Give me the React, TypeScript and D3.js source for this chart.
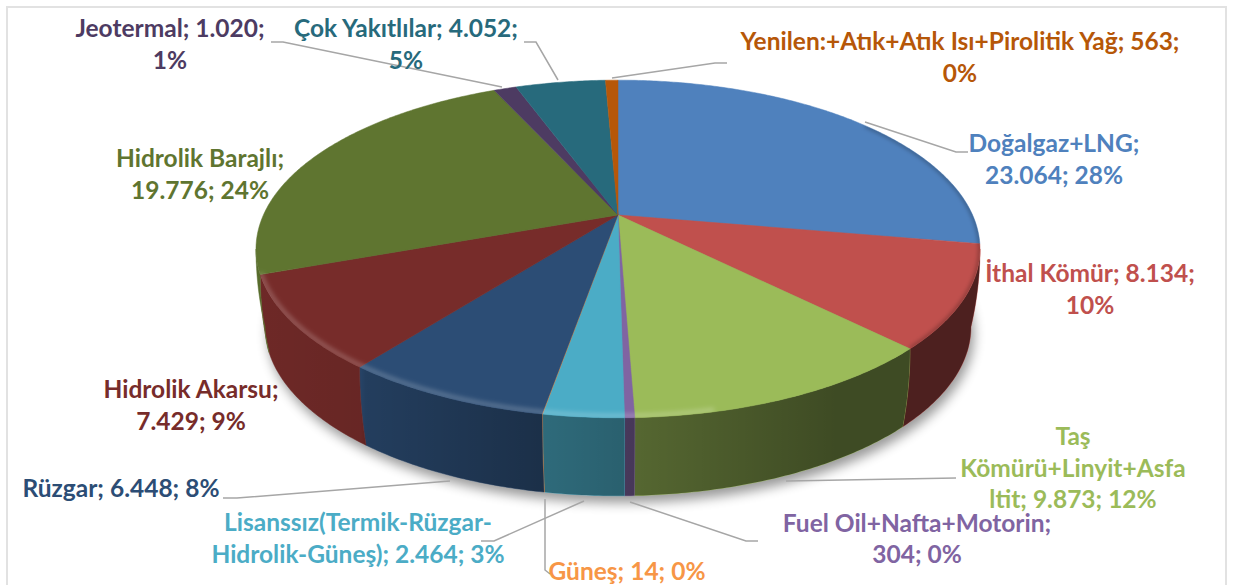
import React from 'react';
import * as d3 from 'd3';

const categories = [
  'Doğalgaz+LNG', 'İthal Kömür', 'Taş Kömürü+Linyit+Asfaltit', 'Fuel Oil+Nafta+Motorin',
  'Lisanssız(Termik-Rüzgar-Hidrolik-Güneş)', 'Güneş', 'Rüzgar', 'Hidrolik Akarsu',
  'Hidrolik Barajlı', 'Jeotermal', 'Çok Yakıtlılar', 'Yenilen:+Atık+Atık Isı+Pirolitik Yağ',
];
const values = [23064, 8134, 9873, 304, 2464, 14, 6448, 7429, 19776, 1020, 4052, 563];
const colors = [
  '#4f81bd', '#c0504d', '#9bbb59', '#8064a2', '#4bacc6', '#f79646',
  '#2c4d75', '#772c2a', '#5f7530', '#4d3b62', '#276a7c', '#b65708',
];

// label text, one entry per category
const labelLines = [
  ['Doğalgaz+LNG;', '23.064; 28%'],
  ['İthal Kömür; 8.134;', '10%'],
  ['Taş', 'Kömürü+Linyit+Asfa', 'ltit; 9.873; 12%'],
  ['Fuel Oil+Nafta+Motorin;', '304; 0%'],
  ['Lisanssız(Termik-Rüzgar-', 'Hidrolik-Güneş); 2.464; 3%'],
  ['Güneş; 14; 0%'],
  ['Rüzgar; 6.448; 8%'],
  ['Hidrolik Akarsu;', '7.429; 9%'],
  ['Hidrolik Barajlı;', '19.776; 24%'],
  ['Jeotermal; 1.020;', '1%'],
  ['Çok Yakıtlılar; 4.052;', '5%'],
  ['Yenilen:+Atık+Atık Isı+Pirolitik Yağ; 563;', '0%'],
];
// centre x / first baseline / line height of each label
const labelPos = [
  [1054, 152, 32], [1090, 282, 32], [1073, 445, 31.5], [917, 532, 31],
  [358, 531, 32], [627, 580, 32], [121, 497, 32], [191, 398, 32],
  [200, 167, 32], [170, 37, 32], [406, 37, 32], [960, 50, 32],
];
const leaders = [
  [[865, 122], [956, 152], [968, 152]],
  [],
  [[786, 481], [956, 478]],
  [[630, 502], [746, 541], [758, 541]],
  [[584, 501], [494, 541], [481, 541]],
  [[545, 499], [545, 570], [550, 574]],
  [[450, 481], [237, 498], [223, 498]],
  [],
  [],
  [[502, 87], [283, 42], [271, 42]],
  [[558, 80], [536, 42], [524, 42]],
  [[612, 78], [715, 63], [727, 63]],
];

const width = 1234;
const height = 585;
const hubX = 618;
const hubY = 215;
const radiusX = 354.6;
const radiusY = 162;
const tilt = 0.2012; // perspective of the pie plate
const depth = 78;
const bottomShrink = 0.025; // wall curves inwards towards the base
const frontStart = Math.acos(-tilt);
const frontEnd = 2 * Math.PI - frontStart;

const project = (angle: number, dy = 0): [number, number] => {
  const u = Math.sin(angle);
  const v = -Math.cos(angle);
  const w = 1 - tilt * v;
  const shrink = 1 - bottomShrink * (dy / depth) ** 2;
  return [hubX + (radiusX * shrink * u) / w, hubY + (radiusY * v) / w + dy];
};

const arcPoints = (a0: number, a1: number, dy = 0) => {
  const n = Math.max(2, Math.ceil((a1 - a0) / 0.01));
  return d3.range(n + 1).map(i => project(a0 + ((a1 - a0) * i) / n, dy));
};

// vertical edge of the wall at one angle, top to bottom
const edgePoints = (angle: number) =>
  d3.range(1, 12).map(i => project(angle, (depth * i) / 12));

const line = d3.line();
const slices = d3.pie<number>().sort(null)(values);

const App = () => {
  const fullArc = arcPoints(0, 2 * Math.PI);
  const plate = line(arcPoints(0, 2 * Math.PI, depth)) + 'Z';

  return (
    <svg
      width={width}
      height={height}
      style={{ position: 'absolute', left: 0, top: 0, background: '#fff' }}
      fontFamily="Lato, Carlito, sans-serif"
      fontWeight={700}
    >
      <defs>
        <filter id="shadowBlur" x="-10%" y="-10%" width="120%" height="130%">
          <feGaussianBlur stdDeviation="6" />
        </filter>
        <filter id="rimBlur" x="-5%" y="-5%" width="110%" height="110%">
          <feGaussianBlur stdDeviation="2.2" />
        </filter>
        <linearGradient id="sideShade" gradientUnits="userSpaceOnUse" x1={260} x2={980} y1={0} y2={0}>
          <stop offset="0" stopColor="#000" stopOpacity={0.08} />
          <stop offset="0.14" stopColor="#000" stopOpacity={0.13} />
          <stop offset="0.147" stopColor="#000" stopOpacity={0.2} />
          <stop offset="0.39" stopColor="#000" stopOpacity={0.38} />
          <stop offset="0.52" stopColor="#000" stopOpacity={0.45} />
          <stop offset="0.8" stopColor="#000" stopOpacity={0.6} />
          <stop offset="1" stopColor="#000" stopOpacity={0.6} />
        </linearGradient>
        <clipPath id="topClip">
          <path d={line(fullArc) + 'Z'} />
        </clipPath>
      </defs>

      {/* Frame, open at the bottom like the cropped original */}
      <path d={`M7,${height}V7H1226V${height}`} fill="none" stroke="#e2e2e2" strokeWidth={2} />

      <path d={plate} transform="translate(3,7)" fill="#000" opacity={0.4} filter="url(#shadowBlur)" />

      {/* Side wall */}
      {slices.map((s, i) => {
        const a0 = Math.max(s.startAngle, frontStart);
        const a1 = Math.min(s.endAngle, frontEnd);
        if (a1 <= a0) return null;
        const d =
          line([
            ...arcPoints(a0, a1),
            ...edgePoints(a1),
            ...arcPoints(a0, a1, depth).reverse(),
            ...edgePoints(a0).reverse(),
          ]) + 'Z';
        return (
          <g key={`side-${i}`}>
            <path d={d} fill={colors[i]} stroke={colors[i]} strokeWidth={0.5} />
            <path d={d} fill="url(#sideShade)" />
          </g>
        );
      })}

      {/* Top face */}
      {slices.map((s, i) => (
        <path
          key={`top-${i}`}
          d={line([[hubX, hubY], ...arcPoints(s.startAngle, s.endAngle)]) + 'Z'}
          fill={colors[i]}
          stroke={colors[i]}
          strokeWidth={0.5}
        />
      ))}

      {/* Rounded bevel along the rim */}
      <g clipPath="url(#topClip)">
        <path
          d={line(arcPoints(Math.PI * 0.93, frontEnd - 0.15)) ?? ''}
          transform="translate(0,-2)"
          fill="none"
          stroke="#fff"
          strokeOpacity={0.2}
          strokeWidth={5}
          filter="url(#rimBlur)"
        />
        <path
          d={line(arcPoints(0.9, Math.PI * 0.75)) ?? ''}
          fill="none"
          stroke="#000"
          strokeOpacity={0.35}
          strokeWidth={3}
          filter="url(#rimBlur)"
        />
      </g>

      {/* Leader lines */}
      {leaders.map((pts, i) =>
        pts.length ? (
          <path
            key={`leader-${i}`}
            d={line(pts as [number, number][]) ?? ''}
            fill="none"
            stroke="#a6a6a6"
            strokeWidth={1.5}
          />
        ) : null
      )}

      {/* Labels */}
      {categories.map((name, i) => (
        <text key={name} textAnchor="middle" fontSize={24.5} fill={colors[i]}>
          {labelLines[i].map((t, j) => (
            <tspan key={j} x={labelPos[i][0]} y={labelPos[i][1] + j * labelPos[i][2]}>
              {t}
            </tspan>
          ))}
        </text>
      ))}
    </svg>
  );
};

export default App;
